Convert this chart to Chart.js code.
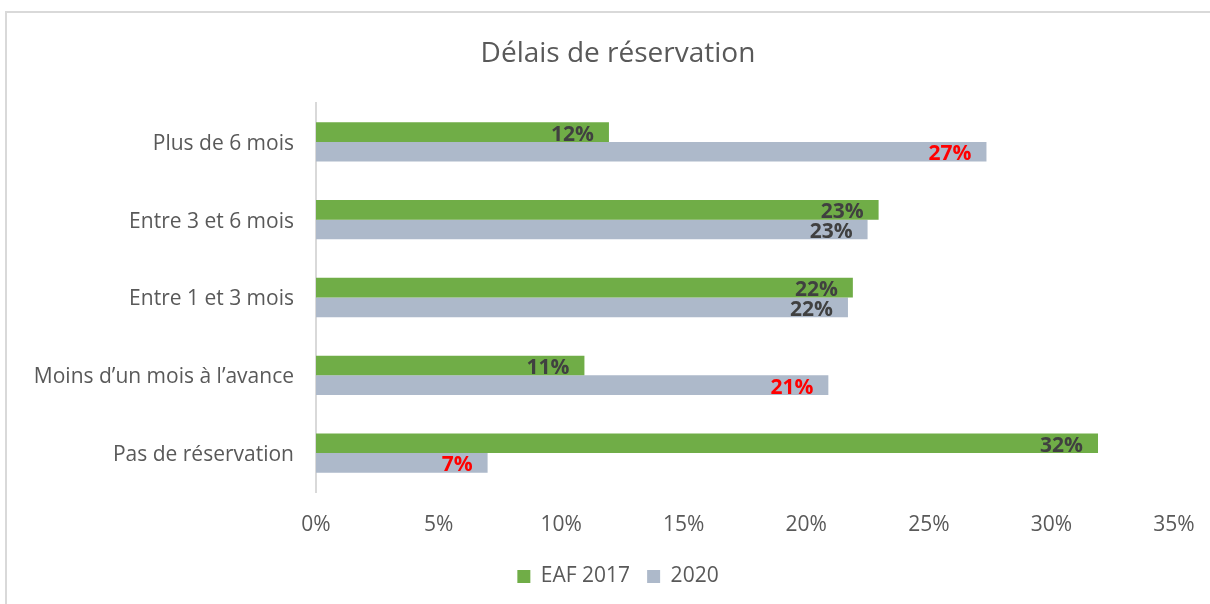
<!DOCTYPE html>
<html lang="fr">
<head>
<meta charset="utf-8">
<title>Délais de réservation</title>
<script src="https://cdn.jsdelivr.net/npm/chart.js@4/dist/chart.umd.min.js"></script>
<style>
  html, body { margin: 0; padding: 0; background: #fff; overflow: hidden; }
  #wrap { position: relative; width: 1210px; height: 604px; }
  #frame { position: absolute; left: 5px; top: 11px; right: -10px; bottom: -10px;
           border-top: 2px solid #d9d9d9; border-left: 2px solid #d9d9d9; pointer-events: none; }
  canvas { position: absolute; left: 0; top: 0; }
</style>
</head>
<body>
<div id="wrap">
  <canvas id="chart" width="1210" height="604"></canvas>
  <div id="frame"></div>
</div>
<script>
// data (percent)
const categories = ['Plus de 6 mois', 'Entre 3 et 6 mois', 'Entre 1 et 3 mois',
                    'Moins d’un mois à l’avance', 'Pas de réservation'];
const seriesNames = ['EAF 2017', '2020'];
const eaf2017 = [11.95, 22.95, 21.9, 10.95, 31.9];
const y2020   = [27.35, 22.5, 21.7, 20.9, 7.0];
const xTicks  = [0, 5, 10, 15, 20, 25, 30, 35];

// label colours (red = highlighted 2020 values)
const DARK = '#404040', RED = '#ff0000';
const labelColors2017 = [DARK, DARK, DARK, DARK, DARK];
const labelColors2020 = [RED, DARK, DARK, RED, RED];

Chart.defaults.font.family = '"Open Sans", "DejaVu Sans", sans-serif';
Chart.defaults.color = '#595959';

// value labels drawn inside the end of each bar
const barLabels = {
  id: 'barLabels',
  afterLayout(chart) {
    // let the long category names run past the scale box (no clipping)
    chart.scales.y.left = 0;
  },
  afterDatasetsDraw(chart) {
    const ctx = chart.ctx;
    ctx.save();
    ctx.font = 'bold 21px "Open Sans"';
    ctx.textAlign = 'right';
    ctx.textBaseline = 'middle';
    chart.data.datasets.forEach((ds, i) => {
      chart.getDatasetMeta(i).data.forEach((bar, j) => {
        ctx.fillStyle = ds.labelColors[j];
        ctx.fillText(Math.round(ds.data[j]) + '%', bar.x - 15, bar.y + 2.5);
      });
    });
    ctx.restore();
  }
};

new Chart(document.getElementById('chart'), {
  type: 'bar',
  data: {
    labels: categories,
    datasets: [
      { label: seriesNames[0], data: eaf2017, backgroundColor: '#70ad47',
        labelColors: labelColors2017 },
      { label: seriesNames[1], data: y2020, backgroundColor: '#adb9ca',
        labelColors: labelColors2020 }
    ]
  },
  options: {
    indexAxis: 'y',
    responsive: false,
    animation: false,
    categoryPercentage: 0.505,
    barPercentage: 1,
    layout: { padding: { left: 62, right: 36, top: 0, bottom: 7 } },
    scales: {
      x: {
        min: xTicks[0],
        max: xTicks[xTicks.length - 1],
        afterBuildTicks: s => { s.ticks = xTicks.map(v => ({ value: v })); },
        afterFit: s => { s.height = 57; s.paddingRight = 0; s.paddingLeft = 0; },
        grid: { display: false, drawTicks: false },
        border: { display: false },
        ticks: { padding: 20, font: { size: 21 }, color: '#595959',
                 callback: v => v + '%' }
      },
      y: {
        afterFit: s => { s.width = 254; s.paddingTop = 0; s.paddingBottom = 0; },
        grid: { display: false, drawTicks: false },
        border: { display: true, color: '#d9d9d9', width: 2 },
        ticks: { padding: 22, labelOffset: 2, font: { size: 21 }, color: '#595959' }
      }
    },
    plugins: {
      title: {
        display: true,
        text: 'Délais de réservation',
        color: '#595959',
        font: { size: 28, weight: 'normal' },
        padding: { top: 37.2, bottom: 32.2 }
      },
      legend: {
        position: 'bottom',
        labels: { boxWidth: 13, boxHeight: 13, padding: 17,
                  font: { size: 21 }, color: '#595959' }
      },
      tooltip: { enabled: false }
    }
  },
  plugins: [barLabels]
});
</script>
</body>
</html>
